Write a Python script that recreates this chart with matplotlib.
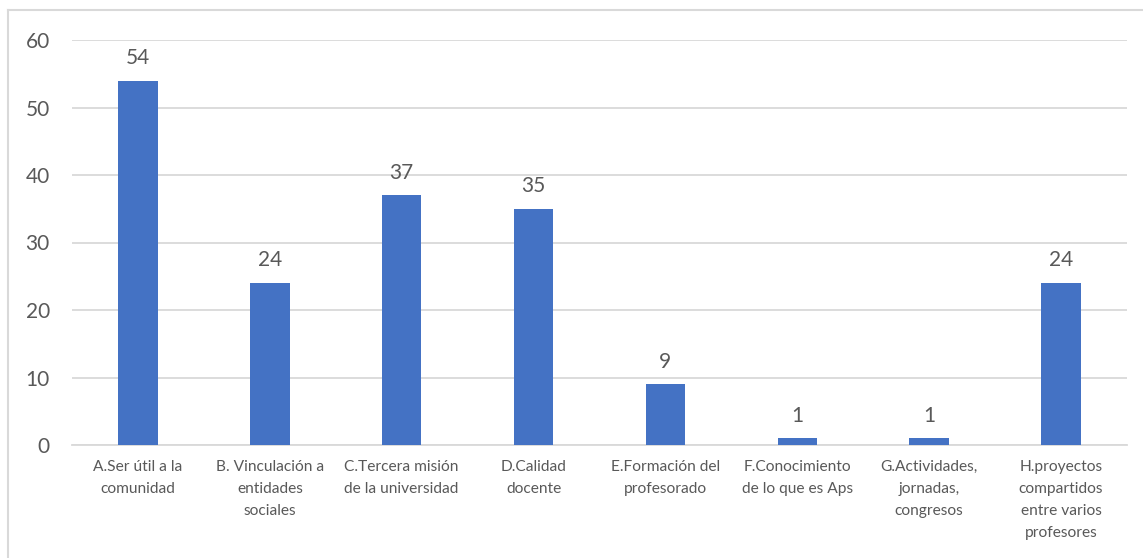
import matplotlib
matplotlib.use('Agg')
from matplotlib import pyplot
from matplotlib import lines

CATEGORIES = [
    'A.Ser útil a la\ncomunidad',
    'B. Vinculación a\nentidades\nsociales',
    'C.Tercera misión\nde la universidad',
    'D.Calidad\ndocente',
    'E.Formación del\nprofesorado',
    'F.Conocimiento\nde lo que es Aps',
    'G.Actividades,\njornadas,\ncongresos',
    'H.proyectos\ncompartidos\nentre varios\nprofesores',
]
VALUES = [54, 24, 37, 35, 9, 1, 1, 24]
Y_TICKS = [0, 10, 20, 30, 40, 50, 60]

BAR_COLOR = '#4472C4'
TEXT_COLOR = '#595959'
GRID_COLOR = '#D9D9D9'

pyplot.rcParams['font.family'] = ['Lato', 'DejaVu Sans']

fig = pyplot.figure(figsize=(11.43, 5.58), dpi=100)
ax = fig.add_axes([72 / 1143, 113 / 558, 1055 / 1143, 405 / 558])

x = range(len(CATEGORIES))
bars = ax.bar(x, VALUES, width=0.3, color=BAR_COLOR, zorder=3)
for rect, v in zip(bars, VALUES):
  ax.annotate(str(v), (rect.get_x() + rect.get_width() / 2, v),
              xytext=(0, 9), textcoords='offset points',
              ha='center', va='bottom', fontsize=15, color=TEXT_COLOR)

ax.set_xlim(-0.5, len(CATEGORIES) - 0.5)
ax.set_ylim(0, 60)
ax.set_yticks(Y_TICKS)
ax.set_xticks(list(x))
ax.set_xticklabels(CATEGORIES, fontsize=11.2, color=TEXT_COLOR,
                   linespacing=1.72, va='top')
ax.tick_params(axis='y', length=0, pad=16, labelsize=15, labelcolor=TEXT_COLOR)
ax.tick_params(axis='x', length=0, pad=11)
ax.yaxis.grid(True, color=GRID_COLOR, linewidth=1.3, zorder=0)
for side in ('top', 'right', 'left'):
  ax.spines[side].set_visible(False)
ax.spines['bottom'].set_color(GRID_COLOR)
ax.spines['bottom'].set_linewidth(1.3)

# Chart border (left and top only visible in the crop)
fig.add_artist(lines.Line2D([8 / 1143, 8 / 1143], [0, 548 / 558],
                            color=GRID_COLOR, linewidth=1.5))
fig.add_artist(lines.Line2D([8 / 1143, 1], [548 / 558, 548 / 558],
                            color=GRID_COLOR, linewidth=1.5))

fig.savefig('out.png', dpi=100)
